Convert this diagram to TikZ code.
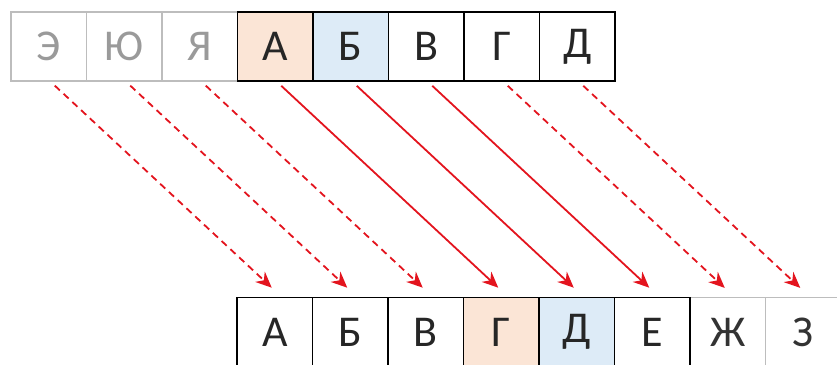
\documentclass[tikz,border=0pt]{standalone}
\usepackage{fontspec}
\setmainfont{Carlito}
\usepackage{xcolor}
\usetikzlibrary{arrows.meta}

\definecolor{peach}{HTML}{FBE5D6}
\definecolor{paleblue}{HTML}{DDEBF7}
\definecolor{ghostline}{HTML}{BDBDBD}
\definecolor{ghosttext}{HTML}{9A9A9A}
\definecolor{arrowred}{HTML}{E3141E}

\tikzset{
    cell/.style={draw=black, line width=1.6pt, minimum width=75.5pt, minimum height=69pt,
        inner sep=0pt, font=\fontsize{44}{48}\selectfont, text=black!85},
    ghost/.style={cell, draw=ghostline, line width=1.2pt, text=ghosttext},
    movearrow/.style={arrowred, line width=1.8pt, -{Stealth[length=16pt, width=14pt]}},
    movedash/.style={movearrow, dash pattern=on 7pt off 5pt}
}

\begin{document}
\begin{tikzpicture}[x=1pt, y=1pt]
        \useasboundingbox (0,0) rectangle (837,364);

        % top row
        \node[ghost] (t0) at (48.75, 317.5) {Э};
        \node[ghost] (t1) at (124.25, 317.5) {Ю};
        \node[ghost] (t2) at (199.75, 317.5) {Я};
        \node[cell, fill=peach] (t3) at (275.25, 317.5) {А};
        \node[cell, fill=paleblue] (t4) at (350.75, 317.5) {Б};
        \node[cell] (t5) at (426.25, 317.5) {В};
        \node[cell] (t6) at (501.75, 317.5) {Г};
        \node[cell] (t7) at (577.25, 317.5) {Д};

        % bottom row
        \node[ghost, text=black!80] (b6) at (727.75, 32) {Ж};
        \node[ghost, text=black!80] (b7) at (803.25, 32) {З};
        \node[cell] (b0) at (274.75, 32) {А};
        \node[cell] (b1) at (350.25, 32) {Б};
        \node[cell] (b2) at (425.75, 32) {В};
        \node[cell, fill=peach] (b3) at (501.25, 32) {Г};
        \node[cell, fill=paleblue] (b4) at (576.75, 32) {Д};
        \node[cell] (b5) at (652.25, 32) {Е};

        % moves
        \draw[movedash] ([xshift=6pt, yshift=-4pt]t0.south) -- ([xshift=-3pt, yshift=9pt]b0.north);
        \draw[movedash] ([xshift=6pt, yshift=-4pt]t1.south) -- ([xshift=-3pt, yshift=9pt]b1.north);
        \draw[movedash] ([xshift=6pt, yshift=-4pt]t2.south) -- ([xshift=-3pt, yshift=9pt]b2.north);
        \draw[movearrow] ([xshift=6pt, yshift=-4pt]t3.south) -- ([xshift=-3pt, yshift=9pt]b3.north);
        \draw[movearrow] ([xshift=6pt, yshift=-4pt]t4.south) -- ([xshift=-3pt, yshift=9pt]b4.north);
        \draw[movearrow] ([xshift=6pt, yshift=-4pt]t5.south) -- ([xshift=-3pt, yshift=9pt]b5.north);
        \draw[movedash] ([xshift=6pt, yshift=-4pt]t6.south) -- ([xshift=-3pt, yshift=9pt]b6.north);
        \draw[movedash] ([xshift=6pt, yshift=-4pt]t7.south) -- ([xshift=-3pt, yshift=9pt]b7.north);
    \end{tikzpicture}
\end{document}
